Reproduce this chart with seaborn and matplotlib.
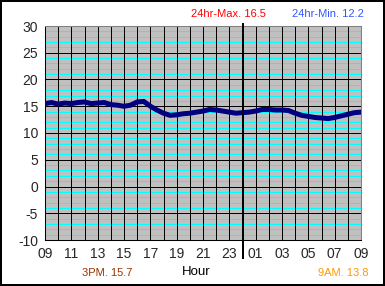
import matplotlib
matplotlib.use("Agg")
import matplotlib.pyplot as plt
import seaborn as sns
import pandas as pd
import numpy as np

# hours since 09:00, half-hourly
hours = [0, 0.5, 1, 1.5, 2, 2.5, 3, 3.5, 4, 4.5, 5, 5.5, 6, 6.5, 7, 7.5, 8, 8.5,
         9, 9.5, 10, 10.5, 11, 11.5, 12, 12.5, 13, 13.5, 14, 14.5, 15, 15.5, 16,
         16.5, 17, 17.5, 18, 18.5, 19, 19.5, 20, 20.5, 21, 21.5, 22, 22.5, 23, 23.5, 24]
temps = [15.5, 15.7, 15.4, 15.6, 15.5, 15.7, 15.8, 15.5, 15.6, 15.7, 15.3, 15.2,
         15.0, 15.2, 15.8, 15.9, 15.0, 14.3, 13.7, 13.3, 13.4, 13.6, 13.7, 13.9,
         14.1, 14.4, 14.3, 14.1, 13.9, 13.7, 13.8, 13.9, 14.1, 14.4, 14.4, 14.3,
         14.3, 14.2, 13.7, 13.3, 13.1, 12.9, 12.8, 12.7, 12.9, 13.2, 13.5, 13.8, 13.9]
xtick_pos = [0, 2, 4, 6, 8, 10, 12, 14, 16, 18, 20, 22, 24]
xtick_labels = ["09", "11", "13", "15", "17", "19", "21", "23", "01", "03", "05", "07", "09"]
ytick_pos = [-10, -5, 0, 5, 10, 15, 20, 25, 30]
max_text = "24hr-Max. 16.5"
min_text = "24hr-Min. 12.2"
pm_text = "3PM. 15.7"
am_text = "9AM. 13.8"
xlabel = "Hour"

sns.set_style("white")
plt.rcParams['font.family'] = ['Liberation Sans', 'DejaVu Sans']

df = pd.DataFrame({"hour": hours, "temp": temps})

fig = plt.figure(figsize=(3.85, 2.86), dpi=100)
fig.patch.set_facecolor("white")
fig.patch.set_edgecolor("black")
fig.patch.set_linewidth(1.5)
ax = fig.add_axes([45/385, 1-240/286, 316/385, 214/286])
ax.set_facecolor("#C0C0C0")

# cyan minor lines
for v in range(-10, 31):
    if v % 5 != 0:
        ax.axhline(v, color="#00FFFF", lw=0.5, zorder=1, antialiased=False)
for v in range(-10, 31, 5):
    ax.axhline(v, color="black", lw=0.5, zorder=1.5, antialiased=False)
for h in range(0, 25):
    ax.axvline(h, color="black", lw=0.5, zorder=1.5, antialiased=False)

sns.lineplot(data=df, x="hour", y="temp", ax=ax, color="#000080", lw=3.6, zorder=3)

ax.plot([15, 15], [30.4, -13.4], color="black", lw=1.2, clip_on=False, zorder=4,
        antialiased=False)

ax.set_xlim(0, 24)
ax.set_ylim(-10, 30)
ax.set_xticks(xtick_pos)
ax.set_xticklabels(xtick_labels, fontsize=10)
ax.set_yticks(ytick_pos)
ax.set_yticklabels([str(v) for v in ytick_pos], fontsize=10)
ax.tick_params(axis="both", direction="out", length=3, width=0.75, color="black", pad=2)
ax.set_xlabel("")
ax.set_ylabel("")
for s in ["left", "bottom"]:
    ax.spines[s].set_color("black")
    ax.spines[s].set_linewidth(0.75)
for s in ["top", "right"]:
    ax.spines[s].set_color("#808080")
    ax.spines[s].set_linewidth(0.75)

fig.text(228/385, 1-14/286, max_text, color="#FF0000", fontsize=8, ha="center", va="center")
fig.text(328/385, 1-14/286, min_text, color="#3355FF", fontsize=8, ha="center", va="center")
fig.text(107/385, 1-273/286, pm_text, color="#993300", fontsize=8, ha="center", va="center")
fig.text(196/385, 1-272/286, xlabel, color="black", fontsize=9.5, ha="center", va="center")
fig.text(343/385, 1-273/286, am_text, color="#FF9900", fontsize=8, ha="center", va="center")

fig.savefig("out.png", dpi=100, facecolor=fig.get_facecolor(), edgecolor=fig.get_edgecolor())
